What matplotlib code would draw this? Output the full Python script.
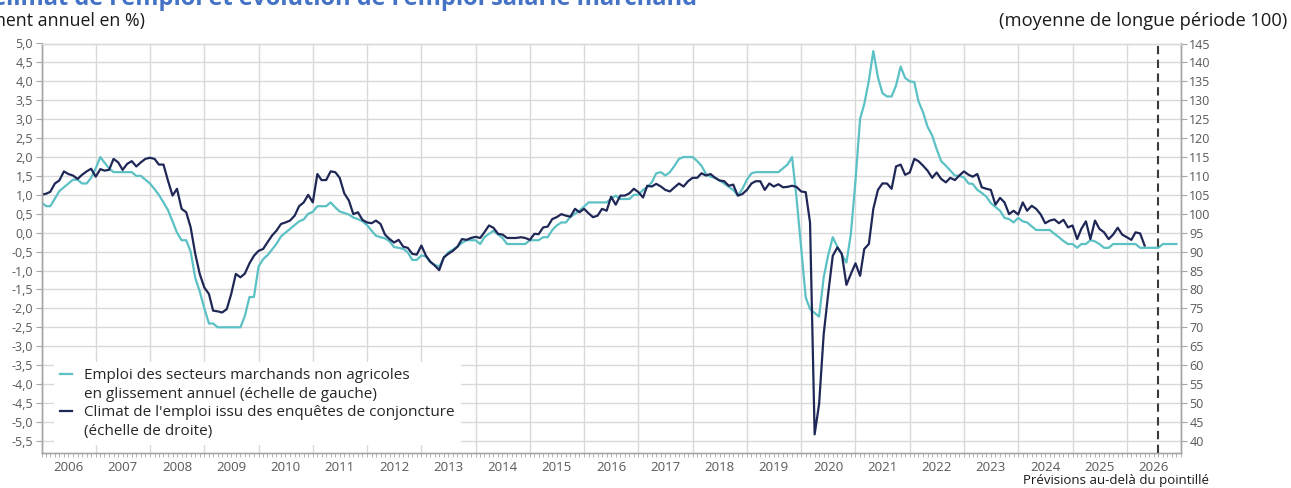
import matplotlib
matplotlib.use("Agg")
import matplotlib.pyplot as plt
import matplotlib.dates as mdates
from matplotlib.lines import Line2D
from matplotlib.ticker import FuncFormatter, NullFormatter
import numpy as np
import pandas as pd

plt.rcParams['font.family'] = ['Open Sans', 'DejaVu Sans']

# Climat de l'emploi (monthly, right axis, long-term mean = 100), 2006-01 .. 2026-05
climat = [
    105.0, 105.3, 105.8, 108.0, 108.8, 111.2, 110.5, 110.1, 109.2, 110.3, 111.2, 111.9,  # 2006
    109.8, 111.8, 111.4, 111.6, 114.5, 113.6, 111.6, 113.2, 113.9, 112.5, 113.6, 114.5,  # 2007
    114.8, 114.5, 113.0, 113.0, 108.8, 104.8, 106.6, 101.3, 100.4, 96.4, 89.4, 84.1,     # 2008
    80.5, 78.8, 74.4, 74.2, 73.9, 74.8, 78.8, 84.1, 83.2, 84.2, 86.9, 88.9,              # 2009
    90.2, 90.7, 92.4, 94.2, 95.5, 97.3, 97.7, 98.2, 99.5, 102.0, 103.0, 105.0,           # 2010
    103.0, 110.5, 108.9, 108.9, 111.2, 111.0, 109.5, 105.4, 103.5, 99.9, 100.4, 98.4,    # 2011
    97.7, 97.5, 98.2, 97.3, 94.5, 93.3, 92.4, 93.1, 91.3, 91.0, 89.4, 89.2,              # 2012
    91.6, 88.9, 87.4, 86.3, 85.1, 88.5, 89.4, 90.2, 91.3, 93.3, 93.1, 93.6,              # 2013
    93.9, 93.6, 95.1, 96.9, 96.3, 94.7, 94.5, 93.6, 93.6, 93.6, 93.8, 93.6,              # 2014
    93.1, 94.7, 94.6, 96.4, 96.6, 98.6, 99.1, 99.9, 99.5, 99.2, 101.3, 100.4,            # 2015
    101.3, 100.1, 99.1, 99.5, 101.3, 100.8, 104.5, 102.4, 104.8, 104.8, 105.4, 106.6,    # 2016
    105.7, 104.3, 107.4, 107.2, 107.9, 107.2, 106.3, 105.9, 107.0, 108.0, 107.2, 108.6,  # 2017
    109.5, 109.5, 110.7, 110.1, 110.5, 109.5, 108.8, 108.6, 107.4, 107.7, 104.8, 105.2,  # 2018
    106.3, 108.0, 108.6, 108.6, 106.3, 108.0, 107.2, 107.8, 107.0, 107.1, 107.4, 107.1,  # 2019
    105.9, 105.7, 97.7, 41.7, 49.7, 68.2, 78.8, 88.9, 91.1, 89.4, 81.2, 84.1,            # 2020
    86.9, 83.6, 90.7, 92.0, 101.3, 106.3, 108.0, 108.0, 106.6, 112.5, 113.0, 110.3,      # 2021
    110.9, 114.5, 113.9, 112.7, 111.4, 109.5, 110.9, 109.2, 108.3, 109.5, 108.9, 110.1,  # 2022
    111.2, 110.3, 109.8, 110.5, 107.0, 106.6, 106.3, 102.4, 104.2, 103.0, 99.9, 100.8,   # 2023
    99.8, 103.0, 100.8, 102.1, 101.3, 99.8, 97.5, 98.2, 98.5, 97.5, 98.4, 96.4,          # 2024
    96.9, 93.3, 96.0, 98.0, 93.3, 98.2, 96.0, 95.1, 93.3, 94.5, 96.3, 94.5,              # 2025
    93.8, 93.1, 95.1, 94.8, 91.6,                                                        # 2026
]

# Emploi salarie marchand non agricole, glissement annuel en % (left axis), 2006-01 .. 2026-12
emploi = [
    0.8, 0.7, 0.7, 0.9, 1.1, 1.2, 1.3, 1.4, 1.4, 1.3, 1.3, 1.45,                # 2006
    1.7, 2.0, 1.85, 1.7, 1.6, 1.6, 1.6, 1.6, 1.6, 1.5, 1.5, 1.4,                # 2007
    1.3, 1.15, 1.0, 0.8, 0.6, 0.3, 0.0, -0.2, -0.2, -0.5, -1.2, -1.55,          # 2008
    -2.0, -2.4, -2.4, -2.5, -2.5, -2.5, -2.5, -2.5, -2.5, -2.2, -1.7, -1.7,     # 2009
    -0.9, -0.7, -0.6, -0.45, -0.3, -0.1, 0.0, 0.1, 0.2, 0.3, 0.35, 0.5,         # 2010
    0.55, 0.7, 0.7, 0.7, 0.8, 0.67, 0.56, 0.52, 0.48, 0.4, 0.36, 0.3,           # 2011
    0.2, 0.05, -0.08, -0.12, -0.15, -0.23, -0.38, -0.4, -0.43, -0.52, -0.72, -0.72,  # 2012
    -0.6, -0.63, -0.78, -0.85, -0.9, -0.67, -0.52, -0.45, -0.37, -0.27, -0.2, -0.2,  # 2013
    -0.2, -0.3, -0.12, -0.03, 0.05, -0.05, -0.14, -0.3, -0.3, -0.3, -0.3, -0.3,     # 2014
    -0.2, -0.2, -0.2, -0.12, -0.12, 0.07, 0.19, 0.27, 0.27, 0.42, 0.5, 0.58,        # 2015
    0.69, 0.8, 0.8, 0.8, 0.8, 0.8, 0.9, 0.98, 0.89, 0.89, 0.89, 1.0,                # 2016
    1.0, 1.13, 1.2, 1.33, 1.57, 1.6, 1.51, 1.6, 1.77, 1.95, 2.0, 2.0,               # 2017
    2.0, 1.89, 1.77, 1.55, 1.48, 1.45, 1.38, 1.3, 1.21, 1.13, 0.98, 1.15,           # 2018
    1.4, 1.57, 1.6, 1.6, 1.6, 1.6, 1.6, 1.6, 1.7, 1.8, 2.0, 0.93,                   # 2019
    -0.39, -1.71, -2.02, -2.12, -2.22, -1.18, -0.6, -0.12, -0.37, -0.58, -0.79, -0.03,  # 2020
    1.38, 3.01, 3.4, 4.02, 4.8, 4.11, 3.69, 3.6, 3.6, 3.89, 4.39, 4.09,             # 2021
    4.0, 3.98, 3.47, 3.18, 2.8, 2.57, 2.21, 1.89, 1.77, 1.64, 1.51, 1.5,            # 2022
    1.46, 1.3, 1.29, 1.13, 1.05, 0.95, 0.78, 0.68, 0.58, 0.39, 0.36, 0.27,          # 2023
    0.39, 0.3, 0.27, 0.17, 0.07, 0.07, 0.07, 0.07, -0.03, -0.12, -0.22, -0.3,       # 2024
    -0.3, -0.4, -0.3, -0.3, -0.2, -0.23, -0.3, -0.4, -0.4, -0.3, -0.3, -0.3,        # 2025
    -0.3, -0.3, -0.3, -0.4, -0.4, -0.4, -0.4, -0.4, -0.3, -0.3, -0.3, -0.3,         # 2026
]

dates_climat = pd.date_range("2006-01-01", periods=len(climat), freq="MS")
dates_emploi = pd.date_range("2006-01-01", periods=len(emploi), freq="MS")
forecast_start = pd.Timestamp("2026-07-31")

labels = [
    "Emploi des secteurs marchands non agricoles",
    "en glissement annuel (échelle de gauche)",
    "Climat de l'emploi issu des enquêtes de conjoncture",
    "(échelle de droite)",
]

teal = "#5bc1c4"
navy = "#1f2756"
grid_col = "#d9d9d9"
axis_col = "#a6a6a6"
tick_col = "#595959"

W, H = 1291, 488
fig = plt.figure(figsize=(W / 100, H / 100), dpi=100)
ax = fig.add_axes([41.5 / W, 1 - 452.5 / H, (1181 - 41.5) / W, (452.5 - 43.5) / H])
ax2 = ax.twinx()

ax.plot(dates_emploi, emploi, color=teal, lw=1.6, solid_joinstyle="round")
ax2.plot(dates_climat, climat, color=navy, lw=1.6, solid_joinstyle="round")
ax2.axvline(forecast_start, color="#3a3a3a", lw=1.5, ls=(0, (4, 2.6)))

# axes ranges
ax.set_xlim(pd.Timestamp("2006-01-01"), pd.Timestamp("2027-01-01"))
ax.set_ylim(-5.81, 5.0)
ax2.set_ylim(36.9, 145)

ax.set_yticks(np.arange(-5.5, 5.01, 0.5))
ax.yaxis.set_major_formatter(FuncFormatter(lambda v, p: f"{round(v, 1):.1f}".replace(".", ",").replace("-0,0", "0,0")))
ax2.set_yticks(np.arange(40, 146, 5))

ax.xaxis.set_major_locator(mdates.YearLocator())
ax.xaxis.set_major_formatter(NullFormatter())
ax.xaxis.set_minor_locator(mdates.MonthLocator())
ax.xaxis.set_minor_formatter(FuncFormatter(
    lambda x, p: str(mdates.num2date(x).year) if mdates.num2date(x).month == 7 else ""))

ax.grid(True, which="major", color=grid_col, lw=1)
ax.set_axisbelow(True)

ax.tick_params(axis="y", length=4, width=0.8, color=axis_col, labelcolor=tick_col, labelsize=9, pad=2)
ax2.tick_params(axis="y", length=4, width=0.8, color=axis_col, labelcolor=tick_col, labelsize=9, pad=2)
ax.tick_params(axis="x", which="both", length=3, width=0.6, color=axis_col, labelcolor=tick_col,
               labelsize=9.5, pad=3)

for a in (ax, ax2):
    for side in ("left", "bottom", "right"):
        a.spines[side].set_color(axis_col)
        a.spines[side].set_linewidth(1)
    a.spines["top"].set_color(grid_col)
    a.spines["top"].set_linewidth(1)

# legend (second lines get an empty handle so the marks sit on the first line)
handles = [
    Line2D([], [], color=teal, lw=1.6),
    Line2D([], [], color="none"),
    Line2D([], [], color=navy, lw=1.6),
    Line2D([], [], color="none"),
]
leg = ax2.legend(handles, labels, loc="upper left", bbox_to_anchor=(54 / W, 1 - 362 / H),
                 bbox_transform=fig.transFigure, fontsize=11, frameon=True, fancybox=False,
                 facecolor="white", edgecolor="none", framealpha=1, handlelength=0.8,
                 handletextpad=0.75, labelspacing=0.24, borderpad=0.4, borderaxespad=0)
for t in leg.get_texts():
    t.set_color("#262626")

# titles and notes
fig.text(697 / W, 1 - 5 / H, "Climat de l'emploi et évolution de l'emploi salarié marchand",
         ha="right", va="baseline", fontsize=17, fontweight="bold", color="#4472c4")
fig.text(145 / W, 1 - 26 / H, "(glissement annuel en %)", ha="right", va="baseline",
         fontsize=12.8, color="#1a1a1a")
fig.text(1287 / W, 1 - 26.5 / H, "(moyenne de longue période 100)", ha="right", va="baseline",
         fontsize=13.2, color="#1a1a1a")
fig.text(1023 / W, 1 - 484 / H, "Prévisions au-delà du pointillé", ha="left", va="baseline",
         fontsize=9.5, color="#1a1a1a")

fig.savefig("out.png", dpi=100)
